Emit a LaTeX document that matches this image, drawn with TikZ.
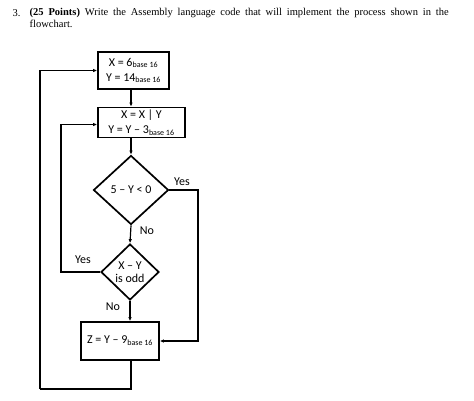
\documentclass[tikz,border=0pt]{standalone}
\usepackage{fontspec}
\setmainfont{Liberation Serif}
\newfontfamily\chartfont{Carlito}
\usetikzlibrary{shapes.geometric,arrows.meta}

\begin{document}
\begin{tikzpicture}[x=1pt,y=-1pt,
    process/.style={draw,rectangle,line width=1.7pt,align=center,inner sep=0pt,
      font=\chartfont\fontsize{12}{15}\selectfont},
    decision/.style={draw,diamond,line width=1.7pt,align=center,inner sep=0pt,
      font=\chartfont\fontsize{12}{13.5}\selectfont},
    flow/.style={line width=1.2pt,-{Latex[length=4pt,width=3.5pt]}},
    link/.style={line width=1.2pt},
    answer/.style={font=\chartfont\fontsize{12}{13}\selectfont}]
  \useasboundingbox (0,0) rectangle (474,400);

  % question
  \node[anchor=base west,inner sep=0pt,font=\fontsize{10.5}{12}\selectfont] (num) at (12.5,16.7) {3.};
  \node[anchor=north west,text width=419pt,align=justify,inner sep=0pt,
    font=\fontsize{10.5}{11.8}\selectfont] (question) at (29.5,8.5)
    {\textbf{(25 Points)} Write the Assembly language code that will implement the process shown in the\linebreak flowchart.};

  % flowchart
  \node[process,minimum width=71pt,minimum height=37pt] (init) at (133.5,70.5)
    {X = 6\textsubscript{base 16}\\ Y = 14\textsubscript{base 16}};
  \node[process,minimum width=87pt,minimum height=30pt] (update) at (141.5,122.5)
    {X = X | Y\\ Y = Y – 3\textsubscript{base 16}};
  \node[decision,minimum width=75pt,minimum height=69pt] (neg) at (131,190) {5 – Y < 0};
  \node[decision,minimum width=58pt,minimum height=56pt] (odd) at (130,272) {X – Y\\ is odd};
  \node[process,minimum width=78pt,minimum height=38pt] (result) at (120,341)
    {Z = Y – 9\textsubscript{base 16}};

  \coordinate (right) at (198,0);
  \coordinate (inner) at (61,0);
  \coordinate (outer) at (40,389);

  \draw[flow] (init.south -| neg) -- (update.north -| neg);
  \draw[flow] (update.south -| neg) -- (neg.north);
  \draw[flow] (neg.south) -- (odd.north);
  \draw[flow] (odd.south) -- (result.north -| odd);
  \draw[flow] (neg.east) -- (neg.east -| right) |- (result.east);
  \draw[flow] (odd.west) -- (odd.west -| inner) |- ([yshift=-2pt]update.west);
  \draw[link] (result.south -| neg) |- (outer);
  \draw[flow] (outer) |- (init.west);

  \node[answer] (yes1) at (182,182) {Yes};
  \node[answer] (no1) at (147,231) {No};
  \node[answer] (yes2) at (83,260) {Yes};
  \node[answer] (no2) at (113,307) {No};
\end{tikzpicture}
\end{document}
